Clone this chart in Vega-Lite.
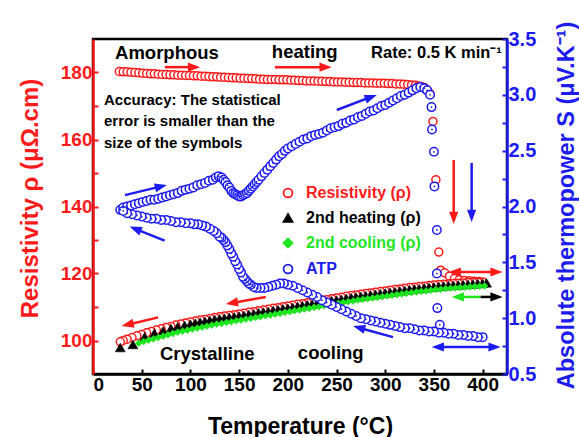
{
"$schema":"https://vega.github.io/schema/vega-lite/v6.json",
"width":414,"height":335,"autosize":"none",
"padding":{"left":93,"top":39,"right":72,"bottom":63},
"background":"white",
"datasets":{
"rho":[
{"series":"Resistivity (ρ)","T":27,"rho":180.3},{"series":"Resistivity (ρ)","T":31,"rho":180.2},{"series":"Resistivity (ρ)","T":35,"rho":180.2},{"series":"Resistivity (ρ)","T":39,"rho":180.1},{"series":"Resistivity (ρ)","T":43,"rho":180.0},{"series":"Resistivity (ρ)","T":47,"rho":179.9},{"series":"Resistivity (ρ)","T":51,"rho":179.8},{"series":"Resistivity (ρ)","T":55,"rho":179.7},{"series":"Resistivity (ρ)","T":59,"rho":179.6},{"series":"Resistivity (ρ)","T":63,"rho":179.6},{"series":"Resistivity (ρ)","T":67,"rho":179.5},{"series":"Resistivity (ρ)","T":71,"rho":179.4},{"series":"Resistivity (ρ)","T":75,"rho":179.4},{"series":"Resistivity (ρ)","T":79,"rho":179.3},{"series":"Resistivity (ρ)","T":83,"rho":179.3},{"series":"Resistivity (ρ)","T":87,"rho":179.2},{"series":"Resistivity (ρ)","T":91,"rho":179.2},{"series":"Resistivity (ρ)","T":95,"rho":179.1},{"series":"Resistivity (ρ)","T":99,"rho":179.1},{"series":"Resistivity (ρ)","T":103,"rho":179.0},{"series":"Resistivity (ρ)","T":107,"rho":179.0},{"series":"Resistivity (ρ)","T":111,"rho":178.9},{"series":"Resistivity (ρ)","T":115,"rho":178.9},{"series":"Resistivity (ρ)","T":119,"rho":178.8},{"series":"Resistivity (ρ)","T":123,"rho":178.7},{"series":"Resistivity (ρ)","T":127,"rho":178.7},{"series":"Resistivity (ρ)","T":131,"rho":178.6},{"series":"Resistivity (ρ)","T":135,"rho":178.6},{"series":"Resistivity (ρ)","T":139,"rho":178.5},{"series":"Resistivity (ρ)","T":143,"rho":178.4},{"series":"Resistivity (ρ)","T":147,"rho":178.4},{"series":"Resistivity (ρ)","T":151,"rho":178.3},{"series":"Resistivity (ρ)","T":155,"rho":178.3},{"series":"Resistivity (ρ)","T":159,"rho":178.2},{"series":"Resistivity (ρ)","T":163,"rho":178.2},{"series":"Resistivity (ρ)","T":167,"rho":178.1},{"series":"Resistivity (ρ)","T":171,"rho":178.0},{"series":"Resistivity (ρ)","T":175,"rho":178.0},{"series":"Resistivity (ρ)","T":179,"rho":177.9},{"series":"Resistivity (ρ)","T":183,"rho":177.9},{"series":"Resistivity (ρ)","T":187,"rho":177.9},{"series":"Resistivity (ρ)","T":191,"rho":177.8},{"series":"Resistivity (ρ)","T":195,"rho":177.8},{"series":"Resistivity (ρ)","T":199,"rho":177.8},{"series":"Resistivity (ρ)","T":203,"rho":177.7},{"series":"Resistivity (ρ)","T":207,"rho":177.7},{"series":"Resistivity (ρ)","T":211,"rho":177.6},{"series":"Resistivity (ρ)","T":215,"rho":177.6},{"series":"Resistivity (ρ)","T":219,"rho":177.5},{"series":"Resistivity (ρ)","T":223,"rho":177.5},{"series":"Resistivity (ρ)","T":227,"rho":177.5},{"series":"Resistivity (ρ)","T":231,"rho":177.4},{"series":"Resistivity (ρ)","T":235,"rho":177.4},{"series":"Resistivity (ρ)","T":239,"rho":177.3},{"series":"Resistivity (ρ)","T":243,"rho":177.3},{"series":"Resistivity (ρ)","T":247,"rho":177.2},{"series":"Resistivity (ρ)","T":251,"rho":177.2},{"series":"Resistivity (ρ)","T":255,"rho":177.2},{"series":"Resistivity (ρ)","T":259,"rho":177.1},{"series":"Resistivity (ρ)","T":263,"rho":177.1},{"series":"Resistivity (ρ)","T":267,"rho":177.0},{"series":"Resistivity (ρ)","T":271,"rho":177.0},{"series":"Resistivity (ρ)","T":275,"rho":177.0},{"series":"Resistivity (ρ)","T":279,"rho":176.9},{"series":"Resistivity (ρ)","T":283,"rho":176.9},{"series":"Resistivity (ρ)","T":287,"rho":176.9},{"series":"Resistivity (ρ)","T":291,"rho":176.8},{"series":"Resistivity (ρ)","T":295,"rho":176.8},{"series":"Resistivity (ρ)","T":299,"rho":176.8},{"series":"Resistivity (ρ)","T":303,"rho":176.7},{"series":"Resistivity (ρ)","T":307,"rho":176.7},{"series":"Resistivity (ρ)","T":311,"rho":176.6},{"series":"Resistivity (ρ)","T":315,"rho":176.6},{"series":"Resistivity (ρ)","T":319,"rho":176.5},{"series":"Resistivity (ρ)","T":323,"rho":176.4},{"series":"Resistivity (ρ)","T":327,"rho":176.3},{"series":"Resistivity (ρ)","T":331,"rho":176.2},{"series":"Resistivity (ρ)","T":334,"rho":176.0},{"series":"Resistivity (ρ)","T":337,"rho":175.8},{"series":"Resistivity (ρ)","T":340,"rho":175.5},{"series":"Resistivity (ρ)","T":342,"rho":175.0},{"series":"Resistivity (ρ)","T":344,"rho":174.4},{"series":"Resistivity (ρ)","T":346,"rho":173.6},{"series":"Resistivity (ρ)","T":349,"rho":165.4},{"series":"Resistivity (ρ)","T":352,"rho":148.0},{"series":"Resistivity (ρ)","T":355,"rho":126.4},{"series":"Resistivity (ρ)","T":357,"rho":121.0},{"series":"Resistivity (ρ)","T":361,"rho":120.2},{"series":"Resistivity (ρ)","T":366,"rho":119.2},{"series":"Resistivity (ρ)","T":371,"rho":118.5},{"series":"Resistivity (ρ)","T":376,"rho":118.1},{"series":"Resistivity (ρ)","T":381,"rho":117.9},{"series":"Resistivity (ρ)","T":386,"rho":117.8},{"series":"Resistivity (ρ)","T":391,"rho":117.7},{"series":"Resistivity (ρ)","T":396,"rho":117.6},{"series":"Resistivity (ρ)","T":400,"rho":117.5},
{"series":"Resistivity (ρ)","T":395,"rho":117.4},{"series":"Resistivity (ρ)","T":390,"rho":117.3},{"series":"Resistivity (ρ)","T":385,"rho":117.3},{"series":"Resistivity (ρ)","T":380,"rho":117.2},{"series":"Resistivity (ρ)","T":375,"rho":117.1},{"series":"Resistivity (ρ)","T":370,"rho":117.0},{"series":"Resistivity (ρ)","T":365,"rho":116.9},{"series":"Resistivity (ρ)","T":360,"rho":116.8},{"series":"Resistivity (ρ)","T":355,"rho":116.7},{"series":"Resistivity (ρ)","T":350,"rho":116.6},{"series":"Resistivity (ρ)","T":345,"rho":116.4},{"series":"Resistivity (ρ)","T":340,"rho":116.2},{"series":"Resistivity (ρ)","T":335,"rho":116.1},{"series":"Resistivity (ρ)","T":330,"rho":115.9},{"series":"Resistivity (ρ)","T":325,"rho":115.8},{"series":"Resistivity (ρ)","T":320,"rho":115.6},{"series":"Resistivity (ρ)","T":315,"rho":115.4},{"series":"Resistivity (ρ)","T":310,"rho":115.2},{"series":"Resistivity (ρ)","T":305,"rho":115.0},{"series":"Resistivity (ρ)","T":300,"rho":114.8},{"series":"Resistivity (ρ)","T":295,"rho":114.6},{"series":"Resistivity (ρ)","T":290,"rho":114.4},{"series":"Resistivity (ρ)","T":285,"rho":114.2},{"series":"Resistivity (ρ)","T":280,"rho":114.0},{"series":"Resistivity (ρ)","T":275,"rho":113.8},{"series":"Resistivity (ρ)","T":270,"rho":113.6},{"series":"Resistivity (ρ)","T":265,"rho":113.4},{"series":"Resistivity (ρ)","T":260,"rho":113.2},{"series":"Resistivity (ρ)","T":255,"rho":112.9},{"series":"Resistivity (ρ)","T":250,"rho":112.7},{"series":"Resistivity (ρ)","T":245,"rho":112.5},{"series":"Resistivity (ρ)","T":240,"rho":112.2},{"series":"Resistivity (ρ)","T":235,"rho":112.0},{"series":"Resistivity (ρ)","T":230,"rho":111.7},{"series":"Resistivity (ρ)","T":225,"rho":111.5},{"series":"Resistivity (ρ)","T":220,"rho":111.3},{"series":"Resistivity (ρ)","T":215,"rho":111.0},{"series":"Resistivity (ρ)","T":210,"rho":110.8},{"series":"Resistivity (ρ)","T":205,"rho":110.5},{"series":"Resistivity (ρ)","T":200,"rho":110.3},{"series":"Resistivity (ρ)","T":195,"rho":110.1},{"series":"Resistivity (ρ)","T":190,"rho":109.8},{"series":"Resistivity (ρ)","T":185,"rho":109.6},{"series":"Resistivity (ρ)","T":180,"rho":109.3},{"series":"Resistivity (ρ)","T":175,"rho":109.1},{"series":"Resistivity (ρ)","T":170,"rho":108.9},{"series":"Resistivity (ρ)","T":165,"rho":108.6},{"series":"Resistivity (ρ)","T":160,"rho":108.4},{"series":"Resistivity (ρ)","T":155,"rho":108.1},{"series":"Resistivity (ρ)","T":150,"rho":107.9},{"series":"Resistivity (ρ)","T":145,"rho":107.7},{"series":"Resistivity (ρ)","T":140,"rho":107.5},{"series":"Resistivity (ρ)","T":135,"rho":107.3},{"series":"Resistivity (ρ)","T":130,"rho":107.1},{"series":"Resistivity (ρ)","T":125,"rho":106.9},{"series":"Resistivity (ρ)","T":120,"rho":106.6},{"series":"Resistivity (ρ)","T":115,"rho":106.3},{"series":"Resistivity (ρ)","T":110,"rho":106.1},{"series":"Resistivity (ρ)","T":105,"rho":105.8},{"series":"Resistivity (ρ)","T":100,"rho":105.5},{"series":"Resistivity (ρ)","T":95,"rho":105.2},{"series":"Resistivity (ρ)","T":90,"rho":104.9},{"series":"Resistivity (ρ)","T":85,"rho":104.6},{"series":"Resistivity (ρ)","T":80,"rho":104.2},{"series":"Resistivity (ρ)","T":75,"rho":103.9},{"series":"Resistivity (ρ)","T":70,"rho":103.5},{"series":"Resistivity (ρ)","T":65,"rho":103.1},{"series":"Resistivity (ρ)","T":60,"rho":102.7},{"series":"Resistivity (ρ)","T":55,"rho":102.3},{"series":"Resistivity (ρ)","T":50,"rho":101.8},{"series":"Resistivity (ρ)","T":45,"rho":101.4},{"series":"Resistivity (ρ)","T":40,"rho":100.9},{"series":"Resistivity (ρ)","T":35,"rho":100.4},{"series":"Resistivity (ρ)","T":31,"rho":100.0},{"series":"Resistivity (ρ)","T":28,"rho":99.6},
{"series":"2nd heating (ρ)","T":28,"rho":97.9},{"series":"2nd heating (ρ)","T":41,"rho":98.8},{"series":"2nd heating (ρ)","T":53,"rho":101.1},{"series":"2nd heating (ρ)","T":63,"rho":102.2},{"series":"2nd heating (ρ)","T":72,"rho":102.9},{"series":"2nd heating (ρ)","T":80,"rho":103.6},{"series":"2nd heating (ρ)","T":87,"rho":104.1},{"series":"2nd heating (ρ)","T":94,"rho":104.5},{"series":"2nd heating (ρ)","T":100,"rho":104.9},{"series":"2nd heating (ρ)","T":105,"rho":105.2},{"series":"2nd heating (ρ)","T":110,"rho":105.5},{"series":"2nd heating (ρ)","T":115,"rho":105.7},{"series":"2nd heating (ρ)","T":120,"rho":106.0},{"series":"2nd heating (ρ)","T":125,"rho":106.3},{"series":"2nd heating (ρ)","T":130,"rho":106.5},{"series":"2nd heating (ρ)","T":135,"rho":106.7},{"series":"2nd heating (ρ)","T":140,"rho":106.9},{"series":"2nd heating (ρ)","T":145,"rho":107.1},{"series":"2nd heating (ρ)","T":150,"rho":107.3},{"series":"2nd heating (ρ)","T":155,"rho":107.5},{"series":"2nd heating (ρ)","T":160,"rho":107.8},{"series":"2nd heating (ρ)","T":165,"rho":108.0},{"series":"2nd heating (ρ)","T":170,"rho":108.3},{"series":"2nd heating (ρ)","T":175,"rho":108.5},{"series":"2nd heating (ρ)","T":180,"rho":108.7},{"series":"2nd heating (ρ)","T":185,"rho":109.0},{"series":"2nd heating (ρ)","T":190,"rho":109.2},{"series":"2nd heating (ρ)","T":195,"rho":109.5},{"series":"2nd heating (ρ)","T":200,"rho":109.7},{"series":"2nd heating (ρ)","T":205,"rho":109.9},{"series":"2nd heating (ρ)","T":210,"rho":110.2},{"series":"2nd heating (ρ)","T":215,"rho":110.4},{"series":"2nd heating (ρ)","T":220,"rho":110.7},{"series":"2nd heating (ρ)","T":225,"rho":110.9},{"series":"2nd heating (ρ)","T":230,"rho":111.1},{"series":"2nd heating (ρ)","T":235,"rho":111.4},{"series":"2nd heating (ρ)","T":240,"rho":111.6},{"series":"2nd heating (ρ)","T":245,"rho":111.9},{"series":"2nd heating (ρ)","T":250,"rho":112.1},{"series":"2nd heating (ρ)","T":255,"rho":112.3},{"series":"2nd heating (ρ)","T":260,"rho":112.6},{"series":"2nd heating (ρ)","T":265,"rho":112.8},{"series":"2nd heating (ρ)","T":270,"rho":113.0},{"series":"2nd heating (ρ)","T":275,"rho":113.2},{"series":"2nd heating (ρ)","T":280,"rho":113.4},{"series":"2nd heating (ρ)","T":285,"rho":113.6},{"series":"2nd heating (ρ)","T":290,"rho":113.8},{"series":"2nd heating (ρ)","T":295,"rho":114.0},{"series":"2nd heating (ρ)","T":300,"rho":114.2},{"series":"2nd heating (ρ)","T":305,"rho":114.4},{"series":"2nd heating (ρ)","T":310,"rho":114.6},{"series":"2nd heating (ρ)","T":315,"rho":114.8},{"series":"2nd heating (ρ)","T":320,"rho":115.0},{"series":"2nd heating (ρ)","T":325,"rho":115.2},{"series":"2nd heating (ρ)","T":330,"rho":115.4},{"series":"2nd heating (ρ)","T":335,"rho":115.5},{"series":"2nd heating (ρ)","T":340,"rho":115.7},{"series":"2nd heating (ρ)","T":345,"rho":115.9},{"series":"2nd heating (ρ)","T":350,"rho":116.0},{"series":"2nd heating (ρ)","T":355,"rho":116.2},{"series":"2nd heating (ρ)","T":360,"rho":116.3},{"series":"2nd heating (ρ)","T":365,"rho":116.4},{"series":"2nd heating (ρ)","T":370,"rho":116.5},{"series":"2nd heating (ρ)","T":375,"rho":116.6},{"series":"2nd heating (ρ)","T":380,"rho":116.7},{"series":"2nd heating (ρ)","T":385,"rho":116.8},{"series":"2nd heating (ρ)","T":390,"rho":116.9},{"series":"2nd heating (ρ)","T":395,"rho":117.0},{"series":"2nd heating (ρ)","T":400,"rho":117.1},{"series":"2nd heating (ρ)","T":404,"rho":117.2},
{"series":"2nd cooling (ρ)","T":47,"rho":99.2},{"series":"2nd cooling (ρ)","T":52,"rho":99.7},{"series":"2nd cooling (ρ)","T":57,"rho":100.1},{"series":"2nd cooling (ρ)","T":62,"rho":100.5},{"series":"2nd cooling (ρ)","T":67,"rho":100.9},{"series":"2nd cooling (ρ)","T":72,"rho":101.3},{"series":"2nd cooling (ρ)","T":77,"rho":101.7},{"series":"2nd cooling (ρ)","T":82,"rho":102.1},{"series":"2nd cooling (ρ)","T":87,"rho":102.5},{"series":"2nd cooling (ρ)","T":92,"rho":102.8},{"series":"2nd cooling (ρ)","T":97,"rho":103.1},{"series":"2nd cooling (ρ)","T":102,"rho":103.4},{"series":"2nd cooling (ρ)","T":107,"rho":103.7},{"series":"2nd cooling (ρ)","T":112,"rho":104.0},{"series":"2nd cooling (ρ)","T":117,"rho":104.3},{"series":"2nd cooling (ρ)","T":122,"rho":104.6},{"series":"2nd cooling (ρ)","T":127,"rho":104.9},{"series":"2nd cooling (ρ)","T":132,"rho":105.1},{"series":"2nd cooling (ρ)","T":137,"rho":105.4},{"series":"2nd cooling (ρ)","T":142,"rho":105.6},{"series":"2nd cooling (ρ)","T":147,"rho":105.9},{"series":"2nd cooling (ρ)","T":152,"rho":106.1},{"series":"2nd cooling (ρ)","T":157,"rho":106.4},{"series":"2nd cooling (ρ)","T":162,"rho":106.6},{"series":"2nd cooling (ρ)","T":167,"rho":106.9},{"series":"2nd cooling (ρ)","T":172,"rho":107.1},{"series":"2nd cooling (ρ)","T":177,"rho":107.4},{"series":"2nd cooling (ρ)","T":182,"rho":107.6},{"series":"2nd cooling (ρ)","T":187,"rho":107.9},{"series":"2nd cooling (ρ)","T":192,"rho":108.1},{"series":"2nd cooling (ρ)","T":197,"rho":108.4},{"series":"2nd cooling (ρ)","T":202,"rho":108.6},{"series":"2nd cooling (ρ)","T":207,"rho":108.9},{"series":"2nd cooling (ρ)","T":212,"rho":109.1},{"series":"2nd cooling (ρ)","T":217,"rho":109.4},{"series":"2nd cooling (ρ)","T":222,"rho":109.6},{"series":"2nd cooling (ρ)","T":227,"rho":109.9},{"series":"2nd cooling (ρ)","T":232,"rho":110.1},{"series":"2nd cooling (ρ)","T":237,"rho":110.4},{"series":"2nd cooling (ρ)","T":242,"rho":110.6},{"series":"2nd cooling (ρ)","T":247,"rho":110.9},{"series":"2nd cooling (ρ)","T":252,"rho":111.1},{"series":"2nd cooling (ρ)","T":257,"rho":111.4},{"series":"2nd cooling (ρ)","T":262,"rho":111.6},{"series":"2nd cooling (ρ)","T":267,"rho":111.8},{"series":"2nd cooling (ρ)","T":272,"rho":112.1},{"series":"2nd cooling (ρ)","T":277,"rho":112.3},{"series":"2nd cooling (ρ)","T":282,"rho":112.5},{"series":"2nd cooling (ρ)","T":287,"rho":112.7},{"series":"2nd cooling (ρ)","T":292,"rho":112.9},{"series":"2nd cooling (ρ)","T":297,"rho":113.1},{"series":"2nd cooling (ρ)","T":302,"rho":113.3},{"series":"2nd cooling (ρ)","T":307,"rho":113.5},{"series":"2nd cooling (ρ)","T":312,"rho":113.7},{"series":"2nd cooling (ρ)","T":317,"rho":113.9},{"series":"2nd cooling (ρ)","T":322,"rho":114.1},{"series":"2nd cooling (ρ)","T":327,"rho":114.3},{"series":"2nd cooling (ρ)","T":332,"rho":114.5},{"series":"2nd cooling (ρ)","T":337,"rho":114.7},{"series":"2nd cooling (ρ)","T":342,"rho":114.8},{"series":"2nd cooling (ρ)","T":347,"rho":115.0},{"series":"2nd cooling (ρ)","T":352,"rho":115.2},{"series":"2nd cooling (ρ)","T":357,"rho":115.3},{"series":"2nd cooling (ρ)","T":362,"rho":115.5},{"series":"2nd cooling (ρ)","T":367,"rho":115.6},{"series":"2nd cooling (ρ)","T":372,"rho":115.7},{"series":"2nd cooling (ρ)","T":377,"rho":115.8},{"series":"2nd cooling (ρ)","T":382,"rho":115.9},{"series":"2nd cooling (ρ)","T":387,"rho":116.0},{"series":"2nd cooling (ρ)","T":392,"rho":116.1},{"series":"2nd cooling (ρ)","T":397,"rho":116.2},{"series":"2nd cooling (ρ)","T":402,"rho":116.3}
],
"atp":[
{"series":"ATP","T":28,"S":1.97},{"series":"ATP","T":31,"S":1.99},{"series":"ATP","T":35,"S":2.00},{"series":"ATP","T":39,"S":2.01},{"series":"ATP","T":43,"S":2.02},{"series":"ATP","T":47,"S":2.03},{"series":"ATP","T":51,"S":2.04},{"series":"ATP","T":55,"S":2.05},{"series":"ATP","T":59,"S":2.06},{"series":"ATP","T":63,"S":2.06},{"series":"ATP","T":67,"S":2.07},{"series":"ATP","T":71,"S":2.08},{"series":"ATP","T":75,"S":2.09},{"series":"ATP","T":79,"S":2.10},{"series":"ATP","T":83,"S":2.11},{"series":"ATP","T":87,"S":2.12},{"series":"ATP","T":91,"S":2.14},{"series":"ATP","T":95,"S":2.15},{"series":"ATP","T":99,"S":2.16},{"series":"ATP","T":103,"S":2.17},{"series":"ATP","T":107,"S":2.19},{"series":"ATP","T":111,"S":2.20},{"series":"ATP","T":115,"S":2.21},{"series":"ATP","T":119,"S":2.23},{"series":"ATP","T":123,"S":2.24},{"series":"ATP","T":126,"S":2.26},{"series":"ATP","T":129,"S":2.27},{"series":"ATP","T":132,"S":2.26},{"series":"ATP","T":134,"S":2.24},{"series":"ATP","T":136,"S":2.22},{"series":"ATP","T":138,"S":2.19},{"series":"ATP","T":140,"S":2.17},{"series":"ATP","T":142,"S":2.14},{"series":"ATP","T":144,"S":2.12},{"series":"ATP","T":146,"S":2.11},{"series":"ATP","T":148,"S":2.10},{"series":"ATP","T":150,"S":2.09},{"series":"ATP","T":152,"S":2.09},{"series":"ATP","T":154,"S":2.10},{"series":"ATP","T":156,"S":2.11},{"series":"ATP","T":158,"S":2.12},{"series":"ATP","T":160,"S":2.14},{"series":"ATP","T":162,"S":2.16},{"series":"ATP","T":164,"S":2.18},{"series":"ATP","T":166,"S":2.20},{"series":"ATP","T":168,"S":2.22},{"series":"ATP","T":170,"S":2.24},{"series":"ATP","T":173,"S":2.27},{"series":"ATP","T":176,"S":2.30},{"series":"ATP","T":179,"S":2.33},{"series":"ATP","T":182,"S":2.36},{"series":"ATP","T":185,"S":2.39},{"series":"ATP","T":188,"S":2.42},{"series":"ATP","T":191,"S":2.45},{"series":"ATP","T":194,"S":2.47},{"series":"ATP","T":197,"S":2.50},{"series":"ATP","T":200,"S":2.52},{"series":"ATP","T":204,"S":2.54},{"series":"ATP","T":208,"S":2.56},{"series":"ATP","T":212,"S":2.58},{"series":"ATP","T":216,"S":2.60},{"series":"ATP","T":220,"S":2.61},{"series":"ATP","T":224,"S":2.63},{"series":"ATP","T":228,"S":2.64},{"series":"ATP","T":232,"S":2.65},{"series":"ATP","T":236,"S":2.66},{"series":"ATP","T":240,"S":2.68},{"series":"ATP","T":244,"S":2.70},{"series":"ATP","T":248,"S":2.71},{"series":"ATP","T":252,"S":2.72},{"series":"ATP","T":256,"S":2.74},{"series":"ATP","T":260,"S":2.75},{"series":"ATP","T":264,"S":2.77},{"series":"ATP","T":268,"S":2.78},{"series":"ATP","T":272,"S":2.80},{"series":"ATP","T":276,"S":2.81},{"series":"ATP","T":280,"S":2.83},{"series":"ATP","T":284,"S":2.85},{"series":"ATP","T":288,"S":2.86},{"series":"ATP","T":292,"S":2.88},{"series":"ATP","T":296,"S":2.90},{"series":"ATP","T":300,"S":2.91},{"series":"ATP","T":304,"S":2.93},{"series":"ATP","T":308,"S":2.95},{"series":"ATP","T":312,"S":2.97},{"series":"ATP","T":316,"S":2.99},{"series":"ATP","T":320,"S":3.00},{"series":"ATP","T":324,"S":3.02},{"series":"ATP","T":328,"S":3.04},{"series":"ATP","T":332,"S":3.06},{"series":"ATP","T":336,"S":3.07},{"series":"ATP","T":340,"S":3.06},{"series":"ATP","T":343,"S":3.04},{"series":"ATP","T":346,"S":3.00},{"series":"ATP","T":347.5,"S":2.89},{"series":"ATP","T":348,"S":2.69},{"series":"ATP","T":350,"S":2.49},{"series":"ATP","T":350.5,"S":2.18},{"series":"ATP","T":353,"S":1.79},{"series":"ATP","T":353,"S":1.40},{"series":"ATP","T":353.5,"S":1.09},{"series":"ATP","T":356,"S":0.94},
{"series":"ATP","T":400,"S":0.83},{"series":"ATP","T":395,"S":0.83},{"series":"ATP","T":390,"S":0.84},{"series":"ATP","T":385,"S":0.84},{"series":"ATP","T":380,"S":0.85},{"series":"ATP","T":375,"S":0.85},{"series":"ATP","T":370,"S":0.86},{"series":"ATP","T":365,"S":0.86},{"series":"ATP","T":360,"S":0.87},{"series":"ATP","T":355,"S":0.87},{"series":"ATP","T":350,"S":0.88},{"series":"ATP","T":345,"S":0.88},{"series":"ATP","T":340,"S":0.89},{"series":"ATP","T":335,"S":0.89},{"series":"ATP","T":330,"S":0.90},{"series":"ATP","T":325,"S":0.91},{"series":"ATP","T":320,"S":0.91},{"series":"ATP","T":315,"S":0.92},{"series":"ATP","T":310,"S":0.93},{"series":"ATP","T":305,"S":0.94},{"series":"ATP","T":300,"S":0.95},{"series":"ATP","T":295,"S":0.96},{"series":"ATP","T":290,"S":0.97},{"series":"ATP","T":285,"S":0.98},{"series":"ATP","T":280,"S":0.99},{"series":"ATP","T":275,"S":1.00},{"series":"ATP","T":270,"S":1.02},{"series":"ATP","T":265,"S":1.04},{"series":"ATP","T":260,"S":1.06},{"series":"ATP","T":255,"S":1.08},{"series":"ATP","T":250,"S":1.10},{"series":"ATP","T":245,"S":1.12},{"series":"ATP","T":240,"S":1.14},{"series":"ATP","T":235,"S":1.16},{"series":"ATP","T":230,"S":1.19},{"series":"ATP","T":225,"S":1.21},{"series":"ATP","T":220,"S":1.23},{"series":"ATP","T":215,"S":1.25},{"series":"ATP","T":210,"S":1.27},{"series":"ATP","T":205,"S":1.29},{"series":"ATP","T":200,"S":1.30},{"series":"ATP","T":196,"S":1.31},{"series":"ATP","T":192,"S":1.31},{"series":"ATP","T":188,"S":1.30},{"series":"ATP","T":184,"S":1.29},{"series":"ATP","T":180,"S":1.28},{"series":"ATP","T":176,"S":1.27},{"series":"ATP","T":172,"S":1.27},{"series":"ATP","T":168,"S":1.27},{"series":"ATP","T":165,"S":1.28},{"series":"ATP","T":162,"S":1.30},{"series":"ATP","T":160,"S":1.31},{"series":"ATP","T":158,"S":1.33},{"series":"ATP","T":156,"S":1.35},{"series":"ATP","T":154,"S":1.37},{"series":"ATP","T":152,"S":1.41},{"series":"ATP","T":150,"S":1.44},{"series":"ATP","T":148,"S":1.48},{"series":"ATP","T":146,"S":1.51},{"series":"ATP","T":144,"S":1.55},{"series":"ATP","T":142,"S":1.58},{"series":"ATP","T":140,"S":1.62},{"series":"ATP","T":138,"S":1.65},{"series":"ATP","T":136,"S":1.68},{"series":"ATP","T":134,"S":1.70},{"series":"ATP","T":132,"S":1.72},{"series":"ATP","T":130,"S":1.73},{"series":"ATP","T":127,"S":1.76},{"series":"ATP","T":124,"S":1.78},{"series":"ATP","T":120,"S":1.80},{"series":"ATP","T":116,"S":1.82},{"series":"ATP","T":112,"S":1.83},{"series":"ATP","T":108,"S":1.84},{"series":"ATP","T":104,"S":1.84},{"series":"ATP","T":100,"S":1.85},{"series":"ATP","T":95,"S":1.85},{"series":"ATP","T":90,"S":1.86},{"series":"ATP","T":85,"S":1.86},{"series":"ATP","T":80,"S":1.87},{"series":"ATP","T":75,"S":1.88},{"series":"ATP","T":70,"S":1.88},{"series":"ATP","T":65,"S":1.89},{"series":"ATP","T":60,"S":1.89},{"series":"ATP","T":55,"S":1.90},{"series":"ATP","T":50,"S":1.91},{"series":"ATP","T":45,"S":1.92},{"series":"ATP","T":40,"S":1.93},{"series":"ATP","T":35,"S":1.94},{"series":"ATP","T":31,"S":1.96}
]},
"layer":[
{"layer":[
 {"data":{"name":"rho"},
  "encoding":{
   "x":{"field":"T","type":"quantitative","scale":{"domain":[0,425],"nice":false,"zero":false},"axis":{"title":"Temperature (°C)","values":[0,25,50,75,100,125,150,175,200,225,250,275,300,325,350,375,400],"labelExpr":"datum.value % 50 == 0 ? datum.label : ''","titleX":207,"titleY":59,"titleBaseline":"alphabetic","titleFontSize":23,"labelFontSize":19,"labelPadding":6,"domainColor":"black","tickColor":"black"}},
   "y":{"field":"rho","type":"quantitative","scale":{"domain":[90,190],"nice":false,"zero":false},"axis":{"title":"Resistivity ρ (μΩ.cm)","values":[100,110,120,130,140,150,160,170,180],"labelExpr":"datum.value % 20 == 0 ? datum.label : ''","titleX":-56,"titleY":159,"titleAngle":270,"titleBaseline":"alphabetic","titleAlign":"center","titleFontSize":24,"titleColor":"#ff1a1a","labelColor":"#ff1a1a","domainColor":"#ff1a1a","tickColor":"#ff1a1a","labelFontSize":19,"labelPadding":6}},
   "stroke":{"field":"series","type":"nominal","scale":{"domain":["Resistivity (ρ)","2nd heating (ρ)","2nd cooling (ρ)","ATP"],"range":["#ff1a1a","#000000","#1ee61e","#1c1cf0"]},"legend":{"title":null,"orient":"none","legendX":187,"legendY":146,"labelColor":{"expr":"datum.value == 'ATP' ? '#1c1cf0' : datum.value == '2nd cooling (ρ)' ? '#1ee61e' : datum.value == '2nd heating (ρ)' ? '#000000' : '#ff1a1a'"}}},
   "fill":{"field":"series","type":"nominal","scale":{"domain":["Resistivity (ρ)","2nd heating (ρ)","2nd cooling (ρ)","ATP"],"range":["#ffffff","#000000","#1ee61e","#ffffff"]},"legend":{"title":null,"orient":"none","legendX":187,"legendY":146,"labelColor":{"expr":"datum.value == 'ATP' ? '#1c1cf0' : datum.value == '2nd cooling (ρ)' ? '#1ee61e' : datum.value == '2nd heating (ρ)' ? '#000000' : '#ff1a1a'"}}},
   "shape":{"field":"series","type":"nominal","scale":{"domain":["Resistivity (ρ)","2nd heating (ρ)","2nd cooling (ρ)","ATP"],"range":["circle","triangle-up","diamond","circle"]},"legend":{"title":null,"orient":"none","legendX":187,"legendY":146,"labelColor":{"expr":"datum.value == 'ATP' ? '#1c1cf0' : datum.value == '2nd cooling (ρ)' ? '#1ee61e' : datum.value == '2nd heating (ρ)' ? '#000000' : '#ff1a1a'"}}}
  },
  "layer":[
   {"transform":[{"filter":"datum.series === 'Resistivity (ρ)'"}],"mark":{"type":"point","filled":true,"size":64,"strokeWidth":1.5,"opacity":1}},
   {"transform":[{"filter":"datum.series === '2nd heating (ρ)'"}],"mark":{"type":"point","filled":true,"size":100,"strokeWidth":0.5,"opacity":1}},
   {"transform":[{"filter":"datum.series === '2nd cooling (ρ)'"}],"mark":{"type":"point","filled":true,"size":45,"strokeWidth":0.8,"opacity":1}}
  ]},
 {"data":{"values":[{}]},
  "layer":[
   {"mark":{"type":"text","text":"Amorphous","align":"left","baseline":"alphabetic","fontSize":18.5,"fontWeight":"bold","font":"Liberation Sans","color":"black"},"encoding":{"x":{"datum":22.6},"y":{"datum":183.9}}},
   {"mark":{"type":"text","text":"heating","align":"left","baseline":"alphabetic","fontSize":18.5,"fontWeight":"bold","font":"Liberation Sans","color":"black"},"encoding":{"x":{"datum":183.6},"y":{"datum":184.3}}},
   {"mark":{"type":"text","text":"Rate: 0.5 K min⁻¹","align":"left","baseline":"alphabetic","fontSize":16.5,"fontWeight":"bold","font":"Liberation Sans","color":"black"},"encoding":{"x":{"datum":285.5},"y":{"datum":184.3}}},
   {"mark":{"type":"text","text":["Accuracy: The statistical","error is smaller than the","size of the symbols"],"lineHeight":21.5,"align":"left","baseline":"alphabetic","fontSize":15,"fontWeight":"bold","font":"Liberation Sans","color":"black"},"encoding":{"x":{"datum":11.3},"y":{"datum":170.4}}},
   {"mark":{"type":"text","text":"Crystalline","align":"left","baseline":"alphabetic","fontSize":18.5,"fontWeight":"bold","font":"Liberation Sans","color":"black"},"encoding":{"x":{"datum":68.7},"y":{"datum":94.2}}},
   {"mark":{"type":"text","text":"cooling","align":"left","baseline":"alphabetic","fontSize":18.5,"fontWeight":"bold","font":"Liberation Sans","color":"black"},"encoding":{"x":{"datum":210.3},"y":{"datum":94.5}}},

   {"mark":{"type":"rule","color":"#ff1a1a","strokeWidth":2.5},"encoding":{"x":{"datum":73.8},"y":{"datum":181.6},"x2":{"datum":104},"y2":{"datum":181.6}}},
   {"mark":{"type":"point","shape":"M0,0L-2,-0.75L-2,0.75Z","size":150,"filled":true,"color":"#ff1a1a","opacity":1,"angle":0},"encoding":{"x":{"datum":110},"y":{"datum":181.6}}},
   {"mark":{"type":"rule","color":"#ff1a1a","strokeWidth":2.5},"encoding":{"x":{"datum":186.7},"y":{"datum":181.6},"x2":{"datum":239},"y2":{"datum":181.6}}},
   {"mark":{"type":"point","shape":"M0,0L-2,-0.75L-2,0.75Z","size":150,"filled":true,"color":"#ff1a1a","opacity":1,"angle":0},"encoding":{"x":{"datum":245.1},"y":{"datum":181.6}}},
   {"mark":{"type":"rule","color":"#1c1cf0","strokeWidth":2.5},"encoding":{"x":{"datum":32.8},"y":{"datum":143.4},"x2":{"datum":69.9},"y2":{"datum":146.0}}},
   {"mark":{"type":"point","shape":"M0,0L-2,-0.75L-2,0.75Z","size":150,"filled":true,"color":"#1c1cf0","opacity":1,"angle":-13.4},"encoding":{"x":{"datum":75.9},"y":{"datum":146.4}}},
   {"mark":{"type":"rule","color":"#1c1cf0","strokeWidth":2.5},"encoding":{"x":{"datum":73.5},"y":{"datum":129.8},"x2":{"datum":43.3},"y2":{"datum":133.3}}},
   {"mark":{"type":"point","shape":"M0,0L-2,-0.75L-2,0.75Z","size":150,"filled":true,"color":"#1c1cf0","opacity":1,"angle":-158.2},"encoding":{"x":{"datum":37.6},"y":{"datum":134.0}}},
   {"mark":{"type":"rule","color":"#1c1cf0","strokeWidth":2.5},"encoding":{"x":{"datum":250.3},"y":{"datum":168.8},"x2":{"datum":285.5},"y2":{"datum":172.7}}},
   {"mark":{"type":"point","shape":"M0,0L-2,-0.75L-2,0.75Z","size":150,"filled":true,"color":"#1c1cf0","opacity":1,"angle":-20.6},"encoding":{"x":{"datum":291.3},"y":{"datum":173.3}}},
   {"mark":{"type":"rule","color":"#ff1a1a","strokeWidth":2.5},"encoding":{"x":{"datum":370.3},"y":{"datum":153.9},"x2":{"datum":370.3},"y2":{"datum":136.6}}},
   {"mark":{"type":"point","shape":"M0,0L-2,-0.75L-2,0.75Z","size":150,"filled":true,"color":"#ff1a1a","opacity":1,"angle":90},"encoding":{"x":{"datum":370.3},"y":{"datum":134.8}}},
   {"mark":{"type":"rule","color":"#1c1cf0","strokeWidth":2.5},"encoding":{"x":{"datum":388.7},"y":{"datum":153.0},"x2":{"datum":388.7},"y2":{"datum":137.2}}},
   {"mark":{"type":"point","shape":"M0,0L-2,-0.75L-2,0.75Z","size":150,"filled":true,"color":"#1c1cf0","opacity":1,"angle":90},"encoding":{"x":{"datum":388.7},"y":{"datum":135.4}}},
   {"mark":{"type":"rule","color":"#ff1a1a","strokeWidth":2.5},"encoding":{"x":{"datum":371.3},"y":{"datum":120.45},"x2":{"datum":414.3},"y2":{"datum":120.45}}},
   {"mark":{"type":"point","shape":"M0,0L-2,-0.75L-2,0.75Z","size":150,"filled":true,"color":"#ff1a1a","opacity":1,"angle":180},"encoding":{"x":{"datum":365.1},"y":{"datum":120.45}}},
   {"mark":{"type":"point","shape":"M0,0L-2,-0.75L-2,0.75Z","size":150,"filled":true,"color":"#ff1a1a","opacity":1,"angle":0},"encoding":{"x":{"datum":420.5},"y":{"datum":120.45}}},
   {"mark":{"type":"rule","color":"#1ee61e","strokeWidth":2.5},"encoding":{"x":{"datum":374.3},"y":{"datum":113.0},"x2":{"datum":397.9},"y2":{"datum":113.0}}},
   {"mark":{"type":"point","shape":"M0,0L-2,-0.75L-2,0.75Z","size":150,"filled":true,"color":"#1ee61e","opacity":1,"angle":180},"encoding":{"x":{"datum":368.2},"y":{"datum":113.0}}},
   {"mark":{"type":"rule","color":"#000000","strokeWidth":2.5},"encoding":{"x":{"datum":397.9},"y":{"datum":113.0},"x2":{"datum":414.3},"y2":{"datum":113.0}}},
   {"mark":{"type":"point","shape":"M0,0L-2,-0.75L-2,0.75Z","size":150,"filled":true,"color":"#000000","opacity":1,"angle":0},"encoding":{"x":{"datum":420.5},"y":{"datum":113.0}}},
   {"mark":{"type":"rule","color":"#1c1cf0","strokeWidth":2.5},"encoding":{"x":{"datum":353.8},"y":{"datum":98.06},"x2":{"datum":412.3},"y2":{"datum":98.06}}},
   {"mark":{"type":"point","shape":"M0,0L-2,-0.75L-2,0.75Z","size":150,"filled":true,"color":"#1c1cf0","opacity":1,"angle":180},"encoding":{"x":{"datum":347.7},"y":{"datum":98.06}}},
   {"mark":{"type":"point","shape":"M0,0L-2,-0.75L-2,0.75Z","size":150,"filled":true,"color":"#1c1cf0","opacity":1,"angle":0},"encoding":{"x":{"datum":418.5},"y":{"datum":98.06}}},
   {"mark":{"type":"rule","color":"#ff1a1a","strokeWidth":2.5},"encoding":{"x":{"datum":177.4},"y":{"datum":113.0},"x2":{"datum":142.5},"y2":{"datum":111.2}}},
   {"mark":{"type":"point","shape":"M0,0L-2,-0.75L-2,0.75Z","size":150,"filled":true,"color":"#ff1a1a","opacity":1,"angle":170.1},"encoding":{"x":{"datum":136.4},"y":{"datum":110.9}}},
   {"mark":{"type":"rule","color":"#ff1a1a","strokeWidth":2.5},"encoding":{"x":{"datum":66.9},"y":{"datum":106.9},"x2":{"datum":35.4},"y2":{"datum":104.7}}},
   {"mark":{"type":"point","shape":"M0,0L-2,-0.75L-2,0.75Z","size":150,"filled":true,"color":"#ff1a1a","opacity":1,"angle":166.6},"encoding":{"x":{"datum":29.4},"y":{"datum":104.3}}},
   {"mark":{"type":"rule","color":"#1c1cf0","strokeWidth":2.5},"encoding":{"x":{"datum":308.0},"y":{"datum":101.0},"x2":{"datum":272.9},"y2":{"datum":103.8}}},
   {"mark":{"type":"point","shape":"M0,0L-2,-0.75L-2,0.75Z","size":150,"filled":true,"color":"#1c1cf0","opacity":1,"angle":-164.2},"encoding":{"x":{"datum":267.0},"y":{"datum":104.3}}}
  ]}
]},
{"data":{"name":"atp"},
 "encoding":{
  "x":{"field":"T","type":"quantitative","scale":{"domain":[0,425],"nice":false,"zero":false},"axis":{"title":"Temperature (°C)","values":[0,25,50,75,100,125,150,175,200,225,250,275,300,325,350,375,400],"labelExpr":"datum.value % 50 == 0 ? datum.label : ''","titleX":207,"titleY":59,"titleBaseline":"alphabetic","titleFontSize":23,"labelFontSize":19,"labelPadding":6,"domainColor":"black","tickColor":"black"}},
  "y":{"field":"S","type":"quantitative","scale":{"domain":[0.5,3.5],"nice":false,"zero":false},"axis":{"orient":"right","title":"Absolute thermopower S (μV.K⁻¹)","values":[0.5,0.75,1,1.25,1.5,1.75,2,2.25,2.5,2.75,3,3.25,3.5],"labelExpr":"(datum.value * 4) % 2 == 0 ? format(datum.value, '.1f') : ''","titleX":66,"titleY":166,"titleAngle":270,"titleBaseline":"alphabetic","titleAlign":"center","titleFontSize":23.5,"titleColor":"#1c1cf0","labelColor":"#1c1cf0","domainColor":"#1c1cf0","tickColor":"#1c1cf0","labelFontSize":20,"labelPadding":6}}
 },
 "layer":[
  {"mark":{"type":"point","filled":true,"size":72,"strokeWidth":1.5,"opacity":1},
   "encoding":{
    "stroke":{"field":"series","type":"nominal","scale":{"domain":["Resistivity (ρ)","2nd heating (ρ)","2nd cooling (ρ)","ATP"],"range":["#ff1a1a","#000000","#1ee61e","#1c1cf0"]},"legend":{"title":null,"orient":"none","legendX":187,"legendY":146,"labelColor":{"expr":"datum.value == 'ATP' ? '#1c1cf0' : datum.value == '2nd cooling (ρ)' ? '#1ee61e' : datum.value == '2nd heating (ρ)' ? '#000000' : '#ff1a1a'"}}},
    "fill":{"field":"series","type":"nominal","scale":{"domain":["Resistivity (ρ)","2nd heating (ρ)","2nd cooling (ρ)","ATP"],"range":["#ffffff","#000000","#1ee61e","#ffffff"]},"legend":{"title":null,"orient":"none","legendX":187,"legendY":146,"labelColor":{"expr":"datum.value == 'ATP' ? '#1c1cf0' : datum.value == '2nd cooling (ρ)' ? '#1ee61e' : datum.value == '2nd heating (ρ)' ? '#000000' : '#ff1a1a'"}}},
    "shape":{"field":"series","type":"nominal","scale":{"domain":["Resistivity (ρ)","2nd heating (ρ)","2nd cooling (ρ)","ATP"],"range":["circle","triangle-up","diamond","circle"]},"legend":{"title":null,"orient":"none","legendX":187,"legendY":146,"labelColor":{"expr":"datum.value == 'ATP' ? '#1c1cf0' : datum.value == '2nd cooling (ρ)' ? '#1ee61e' : datum.value == '2nd heating (ρ)' ? '#000000' : '#ff1a1a'"}}}
   }},
  {"mark":{"type":"point","filled":true,"size":3,"color":"#1c1cf0","opacity":1}}
 ]}
],
"resolve":{"scale":{"y":"independent"},"axis":{"y":"independent"}},
"config":{
 "view":{"stroke":"black","strokeWidth":2.5},
 "axis":{"grid":false,"labelFont":"Liberation Sans","labelFontWeight":"bold","titleFont":"Liberation Sans","titleFontWeight":"bold","domainWidth":2.5,"tickWidth":2,"tickSize":-5,"labelOverlap":false,"labelBound":false},
 "legend":{"labelFont":"Liberation Sans","labelFontWeight":"bold","labelFontSize":16,"symbolSize":80,"symbolStrokeWidth":1.8,"rowPadding":8,"labelOffset":10,"padding":0,"labelLimit":300}
}
}
